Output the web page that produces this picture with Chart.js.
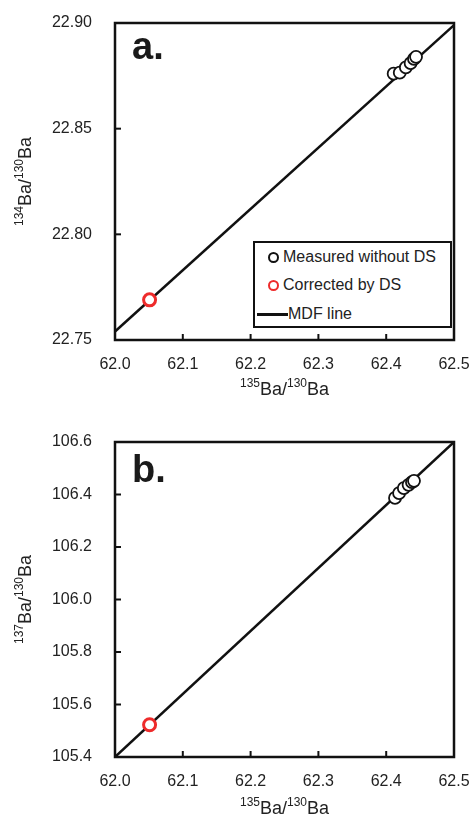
<!DOCTYPE html>
<html>
<head>
<meta charset="utf-8">
<script src="https://cdn.jsdelivr.net/npm/chart.js@4/dist/chart.umd.min.js"></script>
<style>
  body { margin: 0; background: #fff; font-family: "Liberation Sans", Arial, sans-serif; }
  #wrap { position: relative; width: 471px; height: 818px; }
  canvas { position: absolute; left: 0; }
  .panel { position: absolute; font-weight: bold; font-size: 38px; line-height: 1; color: #1a1a1a; }
  .legend { position: absolute; left: 253px; top: 241px; width: 195px; height: 83px; border: 2px solid #111; background: #fff; font-size: 16px; color: #222; }
  .row { position: absolute; left: 0; height: 20px; line-height: 20px; white-space: nowrap; }
  .dot { position: absolute; left: 13px; top: 5px; width: 7px; height: 7px; border-radius: 50%; border: 2px solid #111; }
  .dash { position: absolute; left: 2px; top: 9px; width: 31px; height: 3px; background: #111; }
</style>
</head>
<body>
<div id="wrap">
  <canvas id="chartA" width="471" height="409" style="top:0"></canvas>
  <canvas id="chartB" width="471" height="409" style="top:409px"></canvas>
  <div class="panel" style="left:132px; top:27px">a.</div>
  <div class="panel" style="left:132px; top:450px">b.</div>
  <div class="legend" id="legendA"></div>
</div>
<script>
// x values shared by both panels: 135Ba/130Ba
const xTicks = [62.0, 62.1, 62.2, 62.3, 62.4, 62.5];

// panel a: 134Ba/130Ba
const aMeasuredX = [62.411, 62.420, 62.429, 62.436, 62.441, 62.444];
const aMeasuredY = [22.876, 22.8765, 22.879, 22.881, 22.883, 22.884];
const aCorrectedX = [62.051];
const aCorrectedY = [22.769];
const aLineX = [62.0, 62.5];
const aLineY = [22.754, 22.899];
const aYTicks = [22.75, 22.80, 22.85, 22.90];

// panel b: 137Ba/130Ba
const bMeasuredX = [62.413, 62.419, 62.426, 62.433, 62.438, 62.441];
const bMeasuredY = [106.387, 106.405, 106.424, 106.437, 106.447, 106.452];
const bCorrectedX = [62.051];
const bCorrectedY = [105.523];
const bLineX = [62.0, 62.5];
const bLineY = [105.40, 106.60];
const bYTicks = [105.4, 105.6, 105.8, 106.0, 106.2, 106.4, 106.6];

const labels = ["Measured without DS", "Corrected by DS", "MDF line"];
// axis titles as [text, superscript?] pieces
const xTitle = [["135", true], ["Ba/", false], ["130", true], ["Ba", false]];
const aYTitle = [["134", true], ["Ba/", false], ["130", true], ["Ba", false]];
const bYTitle = [["137", true], ["Ba/", false], ["130", true], ["Ba", false]];

const red = "#ee2b2b";
const FONT = "'Liberation Sans', Arial, sans-serif";

function pts(xs, ys) {
  return xs.map((x, i) => ({ x: x, y: ys[i] }));
}

// draws a title with superscripts, centred on (cx, cy)
function richText(ctx, parts, cx, cy, rot) {
  const big = "18px " + FONT, small = "12px " + FONT;
  let w = 0;
  parts.forEach(([t, sup]) => { ctx.font = sup ? small : big; w += ctx.measureText(t).width; });
  ctx.save();
  ctx.translate(cx, cy);
  if (rot) ctx.rotate(-Math.PI / 2);
  ctx.fillStyle = "#222";
  ctx.textBaseline = "alphabetic";
  let x = -w / 2;
  parts.forEach(([t, sup]) => {
    ctx.font = sup ? small : big;
    ctx.fillText(t, x, sup ? -1 : 6.5);
    x += ctx.measureText(t).width;
  });
  ctx.restore();
}

// frame round the plot area, short inward ticks and the axis titles
const framePlugin = {
  id: "frame",
  afterDraw(chart, args, opts) {
    const { ctx, chartArea: a, scales } = chart;
    ctx.save();
    ctx.strokeStyle = "#111";
    ctx.lineWidth = 2;
    scales.x.ticks.forEach((t) => {
      const px = scales.x.getPixelForValue(t.value);
      ctx.beginPath();
      ctx.moveTo(px, a.bottom);
      ctx.lineTo(px, a.bottom - 6);
      ctx.stroke();
    });
    scales.y.ticks.forEach((t) => {
      const py = scales.y.getPixelForValue(t.value);
      ctx.beginPath();
      ctx.moveTo(a.left, py);
      ctx.lineTo(a.left + 6, py);
      ctx.stroke();
    });
    ctx.lineWidth = 2.5;
    ctx.strokeRect(a.left, a.top, a.right - a.left, a.bottom - a.top);
    ctx.restore();
    richText(ctx, opts.xTitle, (a.left + a.right) / 2, a.bottom + opts.xTitleGap, false);
    richText(ctx, opts.yTitle, 24, (a.top + a.bottom) / 2, true);
  },
};

function makeChart(id, cfg) {
  return new Chart(document.getElementById(id).getContext("2d"), {
    type: "scatter",
    data: {
      datasets: [
        {
          label: labels[0],
          data: pts(cfg.mx, cfg.my),
          pointRadius: 6,
          pointBorderWidth: 1.8,
          pointBackgroundColor: "#fff",
          pointBorderColor: "#111",
          order: 2,
        },
        {
          label: labels[1],
          data: pts(cfg.cx, cfg.cy),
          pointRadius: 6,
          pointBorderWidth: 3,
          pointBackgroundColor: "#fff",
          pointBorderColor: red,
          order: 1,
        },
        {
          label: labels[2],
          type: "line",
          data: pts(cfg.lx, cfg.ly),
          borderColor: "#111",
          borderWidth: 2.5,
          pointRadius: 0,
          fill: false,
          order: 3,
        },
      ],
    },
    options: {
      responsive: false,
      animation: false,
      layout: { padding: { top: cfg.top, right: 17, left: 0, bottom: 0 } },
      plugins: {
        legend: { display: false },
        tooltip: { enabled: false },
        frame: { xTitle: xTitle, yTitle: cfg.ytitle, xTitleGap: cfg.xgap },
      },
      scales: {
        x: {
          type: "linear",
          min: xTicks[0],
          max: xTicks[xTicks.length - 1],
          afterBuildTicks: (s) => { s.ticks = xTicks.map((v) => ({ value: v })); },
          afterFit: (s) => { s.height = cfg.xh; s.paddingLeft = 0; s.paddingRight = 0; },
          ticks: {
            padding: 15,
            color: "#222",
            font: { family: FONT, size: 16 },
            callback: (v) => Number(v).toFixed(1),
          },
          grid: { drawOnChartArea: false, drawTicks: false },
          border: { display: false },
        },
        y: {
          type: "linear",
          min: cfg.yt[0],
          max: cfg.yt[cfg.yt.length - 1],
          afterBuildTicks: (s) => { s.ticks = cfg.yt.map((v) => ({ value: v })); },
          afterFit: (s) => { s.width = 115; s.paddingTop = 0; s.paddingBottom = 0; },
          ticks: {
            padding: 23,
            color: "#222",
            font: { family: FONT, size: 16 },
            callback: (v) => Number(v).toFixed(cfg.dec),
          },
          grid: { drawOnChartArea: false, drawTicks: false },
          border: { display: false },
        },
      },
    },
    plugins: [framePlugin],
  });
}

makeChart("chartA", {
  mx: aMeasuredX, my: aMeasuredY, cx: aCorrectedX, cy: aCorrectedY,
  lx: aLineX, ly: aLineY, yt: aYTicks, dec: 2,
  top: 23, xh: 69, xgap: 48, ytitle: aYTitle,
});
makeChart("chartB", {
  mx: bMeasuredX, my: bMeasuredY, cx: bCorrectedX, cy: bCorrectedY,
  lx: bLineX, ly: bLineY, yt: bYTicks, dec: 1,
  top: 33, xh: 61, xgap: 50, ytitle: bYTitle,
});

// legend for panel a
const legend = document.getElementById("legendA");
const rowTops = [4, 32, 61];
labels.forEach((lab, i) => {
  const row = document.createElement("div");
  row.className = "row";
  row.style.top = rowTops[i] + "px";
  row.style.width = "100%";
  const mark = document.createElement("span");
  if (i < 2) {
    mark.className = "dot";
    mark.style.borderColor = i === 0 ? "#111" : red;
  } else {
    mark.className = "dash";
  }
  const txt = document.createElement("span");
  txt.textContent = lab;
  txt.style.position = "absolute";
  txt.style.left = (i < 2 ? 28 : 33) + "px";
  row.appendChild(mark);
  row.appendChild(txt);
  legend.appendChild(row);
});
</script>
</body>
</html>
